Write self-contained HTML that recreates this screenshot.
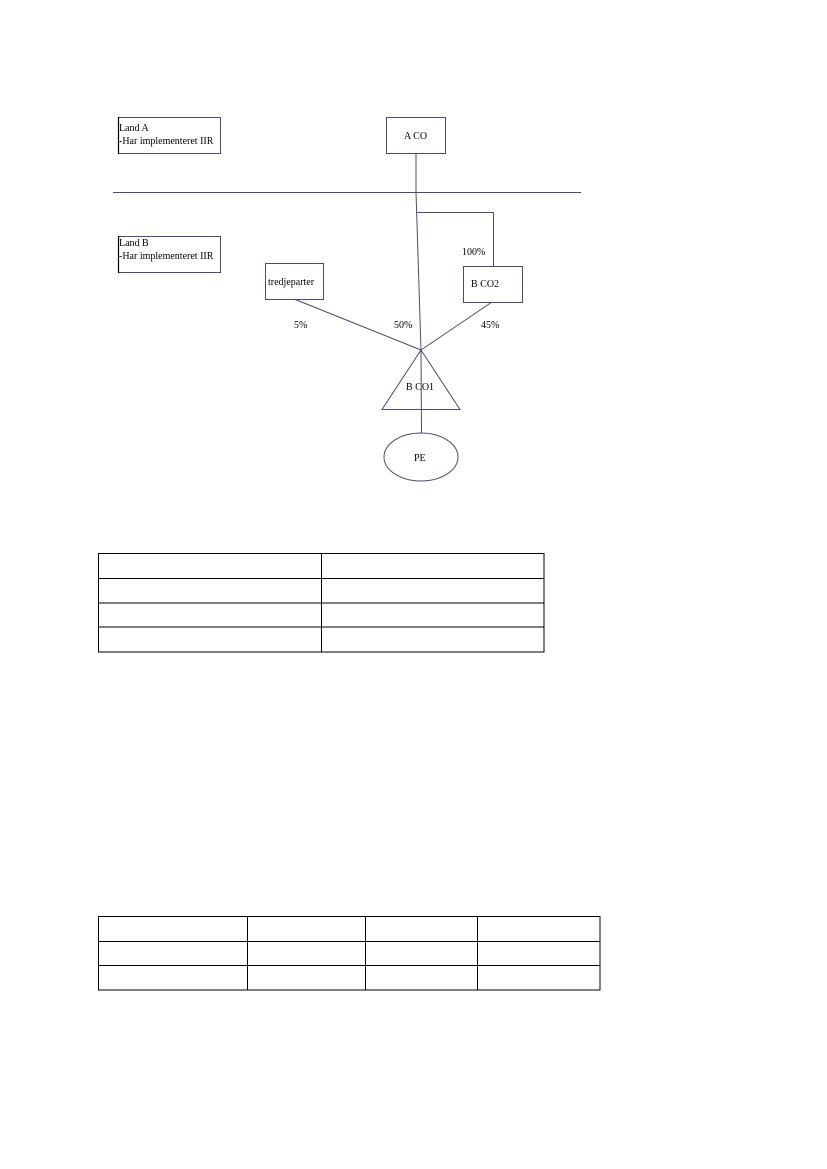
<!DOCTYPE html>
<html><head><meta charset="utf-8"><style>
html,body{margin:0;padding:0;background:#fff;}
svg{display:block;}
text{font-family:"Liberation Serif",serif;font-size:10px;fill:#000;}
</style></head><body>
<svg width="827" height="1169" viewBox="0 0 827 1169" xmlns="http://www.w3.org/2000/svg">
<g fill="none" stroke="#4a4a7a" stroke-width="1">
<rect x="118.5" y="117.5" width="102" height="36"/>
<rect x="386.5" y="117.5" width="59" height="36"/>
<line x1="113" y1="192.5" x2="581" y2="192.5"/>
<rect x="118.5" y="236.5" width="102" height="36"/>
<rect x="265.5" y="263.5" width="58" height="36"/>
<rect x="463.5" y="266.5" width="59" height="36"/>
<polyline points="416,153 416,192 421,350"/>
<polyline points="416.5,212.5 493.5,212.5 493.5,266"/>
<line x1="294" y1="299" x2="421" y2="350"/>
<line x1="492" y1="302" x2="421" y2="350"/>
<polygon points="421,350 382,409.5 460,409.5"/>
<line x1="421" y1="350" x2="421.5" y2="433"/>
<ellipse cx="421" cy="457" rx="37" ry="24"/>
</g>
<line x1="118.5" y1="117" x2="118.5" y2="154" stroke="#000" stroke-width="1.2"/>
<line x1="118.5" y1="236" x2="118.5" y2="273" stroke="#000" stroke-width="1.2"/>
<text x="119" y="131">Land A</text>
<text x="119" y="144">-Har implementeret IIR</text>
<text x="119" y="246">Land B</text>
<text x="119" y="259">-Har implementeret IIR</text>
<text x="404" y="139">A CO</text>
<text x="268" y="285">tredjeparter</text>
<text x="471" y="287">B CO2</text>
<text x="462" y="255">100%</text>
<text x="294" y="328">5%</text>
<text x="394" y="328">50%</text>
<text x="481" y="328">45%</text>
<text x="406" y="390">B CO1</text>
<text x="414" y="461">PE</text>
<g stroke="#000" stroke-width="1" fill="none">
<rect x="98.5" y="553.5" width="445.5" height="98.5"/>
<line x1="98" y1="578.5" x2="544" y2="578.5"/>
<line x1="98" y1="603" x2="544" y2="603"/>
<line x1="98" y1="627" x2="544" y2="627"/>
<line x1="321.5" y1="553" x2="321.5" y2="652"/>
<rect x="98.5" y="916.5" width="501.5" height="73.5"/>
<line x1="98" y1="941.5" x2="600" y2="941.5"/>
<line x1="98" y1="965.5" x2="600" y2="965.5"/>
<line x1="247.5" y1="916" x2="247.5" y2="990"/>
<line x1="365.5" y1="916" x2="365.5" y2="990"/>
<line x1="477.5" y1="916" x2="477.5" y2="990"/>
</g>
</svg>
</body></html>
